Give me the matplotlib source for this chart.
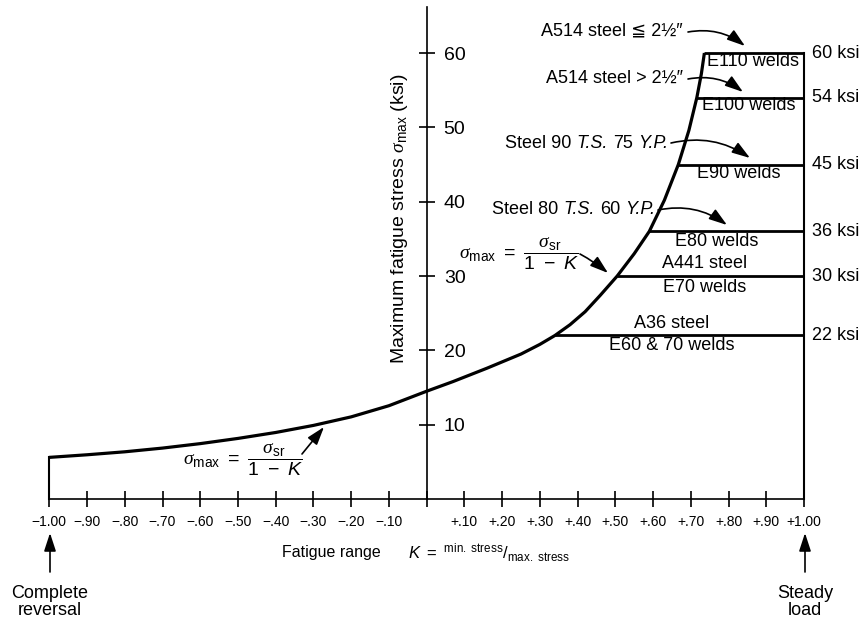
import matplotlib
matplotlib.use('Agg')
import matplotlib.pyplot as plt
from matplotlib.patches import FancyArrowPatch
from matplotlib.offsetbox import TextArea, HPacker, AnnotationBbox

plt.rcParams['font.family'] = ['Liberation Sans', 'DejaVu Sans']
plt.rcParams['mathtext.fontset'] = 'custom'
plt.rcParams['mathtext.rm'] = 'Liberation Sans'
plt.rcParams['mathtext.it'] = 'Liberation Sans:italic'
plt.rcParams['mathtext.sf'] = 'Liberation Serif:italic'

# ---------------- data ----------------
curve_k = [-1.00, -0.90, -0.80, -0.70, -0.60, -0.50, -0.40, -0.30, -0.20, -0.10,
           0.00, 0.07, 0.16, 0.25, 0.30, 0.34, 0.38, 0.42, 0.46, 0.505,
           0.55, 0.59, 0.63, 0.667, 0.695, 0.716, 0.728, 0.736]
curve_s = [5.6, 5.95, 6.35, 6.85, 7.45, 8.15, 8.95, 9.9, 11.05, 12.55,
           14.5, 15.8, 17.6, 19.5, 20.8, 22.0, 23.45, 25.2, 27.4, 30.0,
           33.0, 36.0, 40.2, 45.0, 49.6, 54.0, 57.2, 60.0]

levels = [22, 30, 36, 45, 54, 60]
level_start_k = [0.34, 0.505, 0.59, 0.667, 0.716, 0.736]
level_labels = ['22 ksi', '30 ksi', '36 ksi', '45 ksi', '54 ksi', '60 ksi']

x_ticks = [-1.0, -0.9, -0.8, -0.7, -0.6, -0.5, -0.4, -0.3, -0.2, -0.1, 0.0,
           0.1, 0.2, 0.3, 0.4, 0.5, 0.6, 0.7, 0.8, 0.9, 1.0]
x_tick_labels = ['\u22121.00', '\u2212.90', '\u2212.80', '\u2212.70', '\u2212.60',
                 '\u2212.50', '\u2212.40', '\u2212.30', '\u2212.20', '\u2212.10', '',
                 '+.10', '+.20', '+.30', '+.40', '+.50', '+.60', '+.70', '+.80',
                 '+.90', '+1.00']
y_ticks = [10, 20, 30, 40, 50, 60]
y_tick_labels = ['10', '20', '30', '40', '50', '60']
y_axis_top = 66.2

# ---------------- figure / axes ----------------
W, H = 866, 624
fig = plt.figure(figsize=(W / 100, H / 100), dpi=100)
ax = fig.add_axes([0, 0, 1, 1])
X0, XS = 49.3, 377.35      # pixel of K=-1, pixels per unit K
Y0, YS = 499.0, 7.433      # pixel of sigma=0, pixels per ksi
ax.set_xlim(-1 - X0 / XS, -1 + (W - X0) / XS)
ax.set_ylim((Y0 - H) / YS, Y0 / YS)


def P(xp, yp):
    """pixel position (from top-left) -> data coordinates (layout helper)"""
    return -1 + (xp - X0) / XS, (Y0 - yp) / YS


for s in ['top', 'left']:
    ax.spines[s].set_visible(False)
ax.spines['bottom'].set_position(('data', 0))
ax.spines['bottom'].set_bounds(x_ticks[0], x_ticks[-1])
ax.spines['right'].set_position(('data', 0))
ax.spines['right'].set_bounds(0, y_axis_top)
for s in ['bottom', 'right']:
    ax.spines[s].set_linewidth(1.2)

ax.set_xticks(x_ticks)
ax.set_xticklabels(x_tick_labels, fontsize=10)
ax.yaxis.tick_right()
ax.set_yticks(y_ticks)
ax.set_yticklabels(y_tick_labels, fontsize=14)
ax.tick_params(axis='x', direction='inout', length=11, width=1.2, pad=6)
ax.tick_params(axis='y', direction='inout', length=12, width=1.2, pad=6.3)

# curve
ax.plot(curve_k, curve_s, color='black', lw=2.3, solid_capstyle='butt',
        solid_joinstyle='round')
ax.plot([curve_k[0], curve_k[0]], [0, curve_s[0]], color='black', lw=1.5)
ax.plot([x_ticks[-1], x_ticks[-1]], [0, max(levels)], color='black', lw=1.5)
for lv, k0, lab in zip(levels, level_start_k, level_labels):
    ax.plot([k0, x_ticks[-1]], [lv, lv], color='black', lw=2.0,
            solid_capstyle='butt')
    ax.text(P(812, 0)[0], lv, lab, fontsize=13, ha='left', va='center')

labels_in = [(753, 62, 'E110 welds'), (749, 106, 'E100 welds'),
             (739, 174, 'E90 welds'), (717, 242, 'E80 welds'),
             (705, 264, 'A441 steel'), (705, 287, 'E70 welds'),
             (672, 324, 'A36 steel'), (672, 346, 'E60 & 70 welds')]
for xp, yp, t in labels_in:
    ax.text(*P(xp, yp), t, fontsize=13, ha='center', va='center')


def arrow(p0, p1, rad=0.0):
    a = FancyArrowPatch(P(*p0), P(*p1),
                        arrowstyle='-|>,head_length=0.55,head_width=0.18',
                        connectionstyle=f'arc3,rad={rad}',
                        mutation_scale=20, lw=1.2, color='black',
                        shrinkA=0, shrinkB=0)
    ax.add_patch(a)


def mixed(parts, xy_px, fs=13):
    boxes = [TextArea(t, textprops=dict(fontsize=fs, fontstyle=st))
             for t, st in parts]
    pack = HPacker(children=boxes, align='baseline', pad=0, sep=fs * 0.278)
    ab = AnnotationBbox(pack, P(*xy_px), xycoords='data',
                        box_alignment=(1.0, 0.5), frameon=False, pad=0)
    ax.add_artist(ab)


ax.text(*P(683, 31), 'A514 steel \u2266 2\u00bd\u2033', fontsize=13,
        ha='right', va='center')
arrow((688, 32), (745, 46), rad=-0.22)
ax.text(*P(683, 78), 'A514 steel > 2\u00bd\u2033', fontsize=13,
        ha='right', va='center')
arrow((688, 79), (743, 92), rad=-0.22)
mixed([('Steel 90', 'normal'), ('T.S.', 'italic'), ('75', 'normal'),
       ('Y.P.', 'italic')], (668, 143))
arrow((671, 143), (750, 158), rad=-0.22)
mixed([('Steel 80', 'normal'), ('T.S.', 'italic'), ('60', 'normal'),
       ('Y.P.', 'italic')], (655, 210))
arrow((658, 210), (727, 225), rad=-0.22)

formula = (r'$\mathsf{\sigma}_{\mathrm{max}}\ =\ '
           r'\dfrac{\mathsf{\sigma}_{\mathrm{sr}}}{1\ -\ K}$')
ax.text(*P(459, 254), formula, fontsize=14, ha='left', va='center')
arrow((580, 254), (608, 273), rad=-0.05)
ax.text(*P(183, 460), formula, fontsize=14, ha='left', va='center')
arrow((302, 454), (324, 427), rad=0.0)

ax.text(*P(400, 219),
        r'Maximum fatigue stress $\mathsf{\sigma}_{\mathrm{max}}$ (ksi)',
        fontsize=14, rotation=90, ha='center', va='center')
ax.text(*P(282, 553), 'Fatigue range', fontsize=11.5, ha='left', va='center')
ax.text(*P(408, 553),
        r'$K\ =\ ^{\mathrm{min.\ stress}}/_{\mathrm{max.\ stress}}$',
        fontsize=12, ha='left', va='center')

arrow((50, 572), (50, 533))
arrow((805, 572), (805, 533))
ax.text(*P(50, 602), 'Complete\nreversal', fontsize=13, ha='center',
        va='center', linespacing=1.0)
ax.text(*P(805, 602), 'Steady\nload', fontsize=13, ha='center',
        va='center', linespacing=1.0)

fig.savefig('out.png', dpi=100)
